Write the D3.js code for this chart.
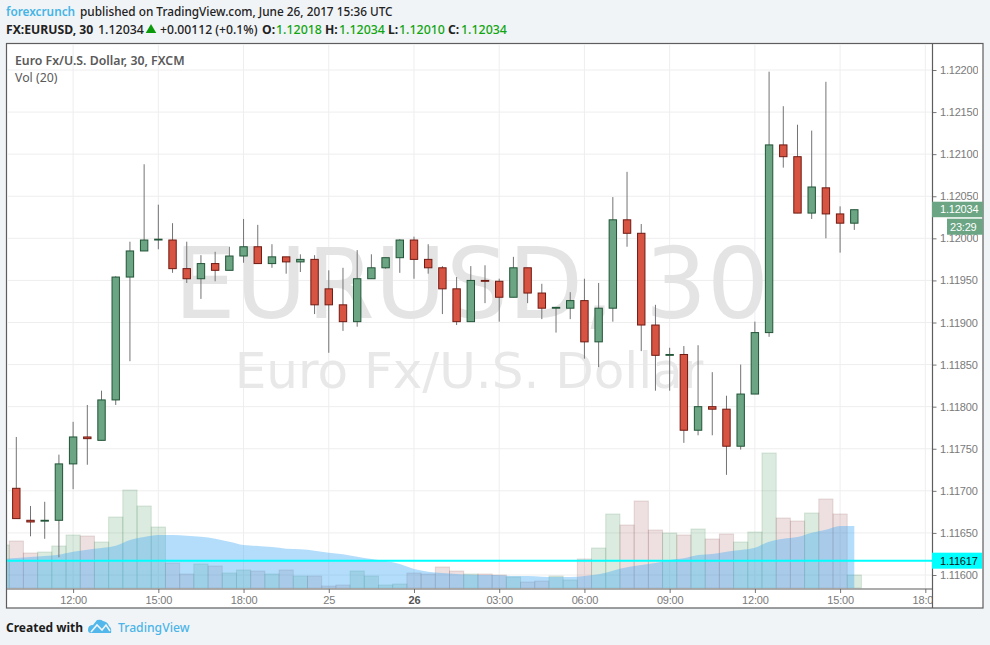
<!DOCTYPE html>
<html>
<head>
<meta charset="utf-8">
<script src="https://cdn.jsdelivr.net/npm/d3@7"></script>
<style>
    html, body { margin: 0; padding: 0; background: #f1f4f7; }
    svg { display: block; }
    .hdr { font-family: "Noto Sans", sans-serif; }
    .axis-text { font-family: "Liberation Sans", Arial, sans-serif; font-size: 11px; letter-spacing: -0.2px; fill: #7a7a7a; }
</style>
</head>
<body>
<div id="chart"></div>
<script>
const opens = [1.11703,1.11665,1.11664,1.11665,1.11732,1.11764,1.11760,1.11808,1.11954,1.11985,
    1.11998,1.11998,1.11964,1.11952,1.11970,1.11962,1.11979,1.11990,1.11970,1.11978,
    1.11972,1.11975,1.11940,1.11921,1.11901,1.11952,1.11965,1.11977,1.11998,1.11975,
    1.11965,1.11940,1.11901,1.11950,1.11949,1.11930,1.11965,1.11935,1.11917,1.11917,
    1.11926,1.11877,1.11917,1.12022,1.12006,1.11897,1.11861,1.11862,1.11772,1.11800,
    1.11797,1.11753,1.11815,1.11888,1.12111,1.12097,1.12030,1.12060,1.12029,1.12018];
const highs = [1.11764,1.11682,1.11687,1.11743,1.11782,1.11802,1.11819,1.11955,1.11996,1.12088,
    1.12040,1.12018,1.11996,1.11980,1.11984,1.11990,1.12023,1.12016,1.11993,1.11978,
    1.11981,1.11980,1.11962,1.11965,1.11986,1.11981,1.11977,1.11999,1.12002,1.11993,
    1.11967,1.11954,1.11967,1.11968,1.11952,1.11978,1.11965,1.11946,1.11918,1.11936,
    1.11952,1.11947,1.12049,1.12079,1.12017,1.11921,1.11870,1.11872,1.11873,1.11841,
    1.11813,1.11850,1.11901,1.12198,1.12157,1.12135,1.12128,1.12186,1.12038,1.12034];
const lows = [1.11667,1.11646,1.11643,1.11621,1.11702,1.11731,1.11760,1.11802,1.11854,1.11985,
    1.11987,1.11959,1.11947,1.11928,1.11949,1.11962,1.11971,1.11970,1.11965,1.11958,
    1.11960,1.11910,1.11864,1.11890,1.11895,1.11952,1.11964,1.11959,1.11952,1.11958,
    1.11910,1.11897,1.11901,1.11923,1.11901,1.11930,1.11923,1.11904,1.11888,1.11904,
    1.11857,1.11847,1.11901,1.11990,1.11866,1.11819,1.11819,1.11757,1.11766,1.11766,
    1.11719,1.11749,1.11815,1.11883,1.12084,1.12030,1.12023,1.12000,1.11983,1.12010];
const closes = [1.11667,1.11663,1.11665,1.11732,1.11764,1.11762,1.11808,1.11954,1.11985,1.11998,
    1.11999,1.11964,1.11952,1.11970,1.11962,1.11979,1.11990,1.11970,1.11978,1.11972,
    1.11975,1.11921,1.11921,1.11901,1.11952,1.11965,1.11977,1.11998,1.11975,1.11965,
    1.11940,1.11901,1.11950,1.11949,1.11930,1.11965,1.11935,1.11917,1.11918,1.11926,
    1.11877,1.11917,1.12022,1.12006,1.11897,1.11861,1.11862,1.11772,1.11800,1.11797,
    1.11753,1.11815,1.11888,1.12111,1.12097,1.12030,1.12061,1.12029,1.12018,1.12034];
const volumes = [470,350,360,420,530,520,460,710,980,820,
    610,250,140,240,220,150,180,170,140,180,
    120,120,20,30,170,120,30,40,150,140,
    210,170,140,140,130,110,60,70,120,80,
    290,400,740,630,870,580,550,530,590,490,
    540,460,560,1350,700,670,750,890,740,130];
const volumeMA = [300,310,320,333,363,383,400,423,480,510,
    530,530,523,513,493,463,430,420,410,393,
    387,373,353,337,313,290,270,240,190,163,
    150,140,133,130,127,120,120,113,110,110,
    120,137,173,207,230,250,280,297,330,340,
    363,380,403,463,493,510,553,583,620,620];
// the bar just off the left edge of the pane, only its volume shows
const prevVolume = 430;
const prevVolumeMA = 290;

const timeTicks = [4, 10, 16, 22, 28, 34, 40, 46, 52, 58, 64];
const timeLabels = ["12:00", "15:00", "18:00", "25", "26", "03:00", "06:00", "09:00", "12:00", "15:00", "18:00"];
const priceTicks = [1.116, 1.1165, 1.117, 1.1175, 1.118, 1.1185, 1.119, 1.1195, 1.12, 1.1205, 1.121, 1.1215, 1.122];
const lastPrice = 1.12034;
const levelPrice = 1.11617;

const width = 990, height = 645;
const pane = { left: 7, right: 932.5, top: 44, bottom: 589 };

const svg = d3.select("#chart").append("svg")
    .attr("width", width)
    .attr("height", height);

const xScale = d3.scaleLinear().domain([0, 59]).range([16.3, 854.3]);
const yScale = d3.scaleLinear().domain([1.116, 1.122]).range([575, 70]);
const volScale = d3.scaleLinear().domain([0, 2000]).range([588, 388]);
const step = xScale(1) - xScale(0);

const defs = svg.append("defs");
defs.append("clipPath").attr("id", "pane-clip").append("rect")
    .attr("x", pane.left).attr("y", pane.top)
    .attr("width", pane.right - pane.left).attr("height", pane.bottom - pane.top);
defs.append("clipPath").attr("id", "price-clip").append("rect")
    .attr("x", pane.right).attr("y", pane.top).attr("width", 45.5).attr("height", pane.bottom - pane.top);
defs.append("clipPath").attr("id", "time-clip").append("rect")
    .attr("x", pane.left).attr("y", pane.bottom).attr("width", pane.right - pane.left).attr("height", 19);

// --- Frame ---
svg.append("rect")
    .attr("x", 6.5).attr("y", 43.5)
    .attr("width", 976.5).attr("height", 564.5)
    .attr("fill", "#fff")
    .attr("stroke", "#5d5d5d")
    .attr("stroke-width", 1.2);

const plot = svg.append("g").attr("clip-path", "url(#pane-clip)");

// --- Grid ---
plot.selectAll(".grid-x").data(timeTicks).join("line")
    .attr("x1", d => xScale(d)).attr("x2", d => xScale(d))
    .attr("y1", pane.top).attr("y2", pane.bottom)
    .attr("stroke", "#eeeeee");
plot.selectAll(".grid-y").data(priceTicks).join("line")
    .attr("x1", pane.left).attr("x2", pane.right)
    .attr("y1", d => yScale(d)).attr("y2", d => yScale(d))
    .attr("stroke", "#eeeeee");

// --- Watermarks ---
plot.append("text")
    .attr("x", 471.5).attr("y", 318)
    .attr("text-anchor", "middle")
    .attr("font-family", "DejaVu Sans")
    .attr("font-size", 97.5)
    .attr("fill", "#e4e4e4")
    .text("EURUSD, 30");
plot.append("text")
    .attr("x", 469).attr("y", 388)
    .attr("text-anchor", "middle")
    .attr("font-family", "DejaVu Sans")
    .attr("font-size", 50)
    .attr("fill", "#e8e8e8")
    .text("Euro Fx/U.S. Dollar");

// --- Volume ---
const volRows = [{ i: -1, v: prevVolume, up: true }]
    .concat(volumes.map((v, i) => ({ i, v, up: closes[i] >= opens[i] })));

plot.selectAll(".vol").data(volRows).join("rect")
    .attr("class", "vol")
    .attr("x", d => xScale(d.i) - step / 2)
    .attr("y", d => volScale(d.v))
    .attr("width", step)
    .attr("height", d => volScale(0) - volScale(d.v))
    .attr("fill", d => d.up ? "rgba(80,155,95,0.2)" : "rgba(142,48,48,0.15)")
    .attr("stroke", d => d.up ? "rgba(60,130,80,0.18)" : "rgba(110,50,50,0.15)");

const maRows = [{ i: -1, v: prevVolumeMA }].concat(volumeMA.map((v, i) => ({ i, v })));
const maArea = d3.area()
    .x(d => xScale(d.i))
    .y0(volScale(0))
    .y1(d => volScale(d.v))
    .curve(d3.curveMonotoneX);
plot.append("path")
    .datum(maRows)
    .attr("fill", "rgba(65,170,245,0.4)")
    .attr("d", maArea);

// --- Candles ---
const candles = opens.map((o, i) => ({ i, o, h: highs[i], l: lows[i], c: closes[i], up: closes[i] >= o }));
const candle = plot.selectAll(".candle").data(candles).join("g").attr("class", "candle");

candle.append("line")
    .attr("x1", d => xScale(d.i)).attr("x2", d => xScale(d.i))
    .attr("y1", d => yScale(d.h)).attr("y2", d => yScale(d.l))
    .attr("stroke", "#737375");

candle.append("rect")
    .attr("x", d => xScale(d.i) - 3.7)
    .attr("y", d => yScale(Math.max(d.o, d.c)))
    .attr("width", 7.4)
    .attr("height", d => Math.max(0.5, Math.abs(yScale(d.o) - yScale(d.c))))
    .attr("fill", d => d.up ? "#6ba583" : "#d75442")
    .attr("stroke", d => d.up ? "#225437" : "#6f1a12");

// --- Horizontal level ---
plot.append("line")
    .attr("x1", pane.left).attr("x2", pane.right)
    .attr("y1", yScale(levelPrice)).attr("y2", yScale(levelPrice))
    .attr("stroke", "#00ffff")
    .attr("stroke-width", 2);

// --- Axes ---
// clip on an outer group, the axis group is translated inside it
const yAxis = svg.append("g")
    .attr("clip-path", "url(#price-clip)")
    .append("g")
    .attr("transform", `translate(${pane.right}, 0)`)
    .call(d3.axisRight(yScale).tickValues(priceTicks).tickFormat(d3.format(".5f")).tickSize(4).tickPadding(3.5));
yAxis.select(".domain").remove();
yAxis.selectAll("line").attr("stroke", "#777");
yAxis.selectAll("text").attr("class", "axis-text");
yAxis.attr("font-family", null).attr("font-size", null);

const xAxis = svg.append("g")
    .attr("clip-path", "url(#time-clip)")
    .append("g")
    .attr("transform", `translate(0, ${pane.bottom})`)
    .call(d3.axisBottom(xScale).tickValues(timeTicks).tickFormat((d, i) => timeLabels[i]).tickSize(4).tickPadding(3));
xAxis.select(".domain").remove();
xAxis.selectAll("line").attr("stroke", "#777");
xAxis.selectAll("text").attr("class", "axis-text");
xAxis.attr("font-family", null).attr("font-size", null);
xAxis.selectAll("text").filter(d => d === 28)
    .style("font-weight", "bold")
    .style("fill", "#555");

svg.append("line")
    .attr("x1", pane.right).attr("x2", pane.right)
    .attr("y1", 43.5).attr("y2", 608)
    .attr("stroke", "#5d5d5d").attr("stroke-width", 1.2);
svg.append("line")
    .attr("x1", pane.left).attr("x2", pane.right)
    .attr("y1", pane.bottom).attr("y2", pane.bottom)
    .attr("stroke", "#5d5d5d").attr("stroke-width", 1.2);

// --- Price labels ---
function priceLabel(x, y, w, h, fill, color, label, textX) {
    svg.append("rect").attr("x", x).attr("y", y).attr("width", w).attr("height", h).attr("fill", fill);
    svg.append("text")
        .attr("class", "axis-text")
        .attr("x", textX)
        .attr("y", y + h / 2 + 4)
        .style("fill", color)
        .text(label);
}
priceLabel(932, yScale(lastPrice) - 8, 51, 15.5, "#6ba583", "#fff", d3.format(".5f")(lastPrice), 940);
priceLabel(947, yScale(lastPrice) + 9, 36, 16, "#6ba583", "#fff", "23:29", 950);
priceLabel(932, yScale(levelPrice) - 8, 50, 16, "#00ffff", "#111", d3.format(".5f")(levelPrice), 940);

// --- Header text ---
function hdr(x, y, label, color, weight, size) {
    svg.append("text")
        .attr("class", "hdr")
        .attr("x", x).attr("y", y)
        .attr("fill", color)
        .attr("font-size", size || 11.8)
        .attr("font-weight", weight || 400)
        .text(label);
}
const up = "#12a512";
hdr(6, 15.5, "forexcrunch", "#45b5e6", 600);
hdr(80, 15.5, "published on TradingView.com, June 26, 2017 15:36 UTC", "#222", 500);
hdr(6, 34, "FX:EURUSD, 30", "#222", 700, 12.2);
hdr(98, 34, "1.12034", "#222", 500, 12.4);
hdr(160, 34, "+0.00112 (+0.1%)", "#222", 500, 12.2);
hdr(262, 34, "O:", "#222", 700, 12.2);
hdr(276, 34, "1.12018", up, 500, 12.4);
hdr(325, 34, "H:", "#222", 700, 12.2);
hdr(339, 34, "1.12034", up, 500, 12.4);
hdr(388, 34, "L:", "#222", 700, 12.2);
hdr(399, 34, "1.12010", up, 500, 12.4);
hdr(448, 34, "C:", "#222", 700, 12.2);
hdr(461, 34, "1.12034", up, 500, 12.4);
svg.append("path")
    .attr("transform", "translate(151, 30)")
    .attr("d", d3.symbol(d3.symbolTriangle, 48))
    .attr("fill", "#0a9a0a");

hdr(15, 65, "Euro Fx/U.S. Dollar, 30, FXCM", "#5a5a5a", 600, 12.3);
hdr(15, 82, "Vol (20)", "#5a5a5a", 400, 12.3);

// --- Footer ---
hdr(6, 632, "Created with", "#1c1c1c", 700, 12);
hdr(118, 632, "TradingView", "#4bb5e8", 500, 12.2);
svg.append("path")
    .attr("d", "M88,630 Q88,625 93,625 L97,620 Q101,619 103,621 Q108,622 109,626 Q112,628 111,633 L91,633 Q88,633 88,630Z")
    .attr("fill", "#52b7ea");
svg.append("path")
    .attr("d", "M91,632 L97,625 L102,630 L106,625 L110,631")
    .attr("fill", "none")
    .attr("stroke", "#f1f4f7")
    .attr("stroke-width", 1.6);
</script>
</body>
</html>
